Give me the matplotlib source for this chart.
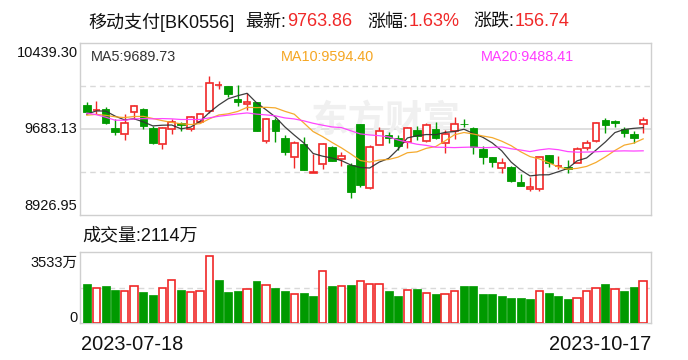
import numpy as np
import pandas as pd
import matplotlib
matplotlib.use('Agg')
import matplotlib.pyplot as plt

plt.rcParams['font.family'] = ['Liberation Sans', 'Noto Sans CJK SC', 'DejaVu Sans']

# ---------------- data ----------------
date_labels = ['2023-07-18', '2023-10-17']

opens = [9894, 9846, 9859, 9689, 9637, 9830, 9859, 9695, 9549, 9681,
         9733, 9686, 9747, 9839, 10067, 10061, 9947, 9900, 9918, 9578,
         9762, 9604, 9434, 9550, 9297, 9373, 9525, 9422, 9367, 9727,
         9162, 9545, 9628, 9607, 9566, 9674, 9575, 9681, 9557, 9666,
         9730, 9689, 9507, 9434, 9337, 9352, 9214, 9156, 9153, 9454,
         9358, 9346, 9381, 9513, 9575, 9762, 9753, 9681, 9639, 9724]
highs = [9918, 9929, 9874, 9768, 9815, 9890, 9868, 9710, 9703, 9768,
         9747, 9797, 9826, 10149, 10108, 10061, 10070, 9997, 9920, 9777,
         9780, 9633, 9575, 9615, 9461, 9557, 9538, 9481, 9384, 9727,
         9542, 9703, 9657, 9630, 9700, 9710, 9739, 9747, 9674, 9786,
         9768, 9698, 9534, 9437, 9425, 9354, 9287, 9264, 9437, 9458,
         9446, 9410, 9528, 9586, 9747, 9777, 9762, 9698, 9666, 9791]
lows = [9826, 9815, 9727, 9630, 9586, 9768, 9686, 9551, 9510, 9639,
        9668, 9666, 9733, 9824, 10035, 9967, 9885, 9850, 9666, 9563,
        9571, 9457, 9340, 9327, 9292, 9329, 9399, 9360, 9079, 9176,
        9156, 9542, 9563, 9498, 9519, 9586, 9573, 9599, 9469, 9593,
        9698, 9461, 9375, 9352, 9299, 9214, 9182, 9141, 9141, 9352,
        9329, 9299, 9380, 9498, 9573, 9651, 9703, 9615, 9557, 9651]
closes = [9835, 9850, 9739, 9659, 9733, 9885, 9712, 9563, 9689, 9742,
          9716, 9786, 9815, 10085, 10072, 9988, 9918, 9922, 9668, 9768,
          9668, 9484, 9560, 9327, 9301, 9549, 9404, 9446, 9132, 9191,
          9528, 9663, 9607, 9536, 9689, 9624, 9716, 9601, 9637, 9727,
          9724, 9528, 9434, 9390, 9381, 9228, 9185, 9170, 9434, 9387,
          9362, 9329, 9505, 9560, 9733, 9721, 9739, 9645, 9607.12, 9763.86]
# closes of the 19 sessions before the window (needed for the moving averages)
pre_closes = [10120, 10180, 10190, 9740, 9660, 9650, 9610, 9640, 9790, 9830,
              9780, 9820, 9790, 9800, 9790, 9705, 9745, 9880, 9900]
# volume in 万
volumes = [1942, 1727, 1843, 1644, 1577, 1826, 1544, 1378, 1760, 2125,
           1644, 1528, 1577, 3319, 2141, 1544, 1594, 1677, 2091, 1876,
           1743, 1594, 1428, 1494, 1329, 2589, 1843, 1826, 1876, 2108,
           1926, 1926, 1577, 1329, 1660, 1677, 1511, 1428, 1461, 1611,
           1826, 1826, 1428, 1428, 1329, 1229, 1229, 1179, 1611, 1478,
           1329, 1179, 1262, 1611, 1760, 1926, 1710, 1577, 1776, 2114]

price_ticks = [8926.95, 9683.13, 10439.30]
price_tick_labels = ['8926.95', '9683.13', '10439.30']
vol_max = 3533
vol_tick_labels = ['0', '3533万']
ma_labels = ['MA5:9689.73', 'MA10:9594.40', 'MA20:9488.41']
title_name = '移动支付[BK0556]'
title_fields = [('最新:', '9763.86'), ('涨幅:', '1.63%'), ('涨跌:', '156.74')]
vol_title = '成交量:2114万'

# ---------------- style ----------------
RED = '#F02828'
GREEN = '#009A00'
GRID = '#D9D9D9'
SPINE = '#CFCFCF'
TXT = '#111111'
MA_COLORS = ['#333333', '#F5A623', '#FF3CFF']

W, H = 688, 360
fig = plt.figure(figsize=(W / 100, H / 100), dpi=100)
fig.patch.set_facecolor('white')


def fx(px):
    return px / W


def fy(py):
    return 1 - py / H


ax = fig.add_axes([fx(80), fy(215), (651 - 80) / W, (215 - 43) / H])
axv = fig.add_axes([fx(80), fy(323), (651 - 80) / W, (323 - 252) / H])

o = np.array(opens, float)
h = np.array(highs, float)
l = np.array(lows, float)
c = np.array(closes, float)
v = np.array(volumes, float)
x = np.arange(len(c))

# moving averages
allc = pd.Series(list(pre_closes) + list(closes), dtype=float)
n_pre = len(pre_closes)
mas = [allc.rolling(n).mean().to_numpy()[n_pre:] for n in (5, 10, 20)]

up = c >= o
dn = ~up
lo = np.minimum(o, c)
hi = np.maximum(o, c)

# grid lines
ymin, ymax = price_ticks[0], price_ticks[-1]
ymid = price_ticks[1]
ax.axhline(ymid, color=GRID, lw=1.2, zorder=0)
for q in (0.25, 0.75):
    ax.axhline(ymin + (ymax - ymin) * q, color=GRID, lw=1.0, ls=(0, (4, 3)), zorder=0)
axv.axhline(vol_max / 2, color=GRID, lw=1.0, ls=(0, (4, 3)), zorder=0)

# watermark
ax.text(0.535, 0.545, '东方财富', transform=ax.transAxes, fontsize=27,
        fontweight='bold', color='#F0F0F0', ha='center', va='center', zorder=1,
        family=['Noto Sans CJK SC'])

BW = 0.8
# green candles
ax.vlines(x[dn], l[dn], h[dn], color=GREEN, lw=1.0, zorder=3)
ax.bar(x[dn], hi[dn] - lo[dn], bottom=lo[dn], width=BW, color=GREEN,
       edgecolor=GREEN, lw=0.6, zorder=4)
# red candles (hollow)
ax.vlines(x[up], l[up], lo[up], color=RED, lw=1.0, zorder=3)
ax.vlines(x[up], hi[up], h[up], color=RED, lw=1.0, zorder=3)
ax.bar(x[up], hi[up] - lo[up], bottom=lo[up], width=BW - 0.08, facecolor='white',
       edgecolor=RED, lw=1.2, zorder=4)

for ma, col in zip(mas, MA_COLORS):
    ax.plot(x, ma, color=col, lw=0.9, zorder=5, alpha=0.95)

# volume
prev = np.r_[pre_closes[-1], c[:-1]]
vup = c >= prev
axv.bar(x[~vup], v[~vup], width=0.84, color=GREEN, edgecolor=GREEN, lw=0.5, zorder=3)
axv.bar(x[vup], v[vup], width=0.78, facecolor='white', edgecolor=RED, lw=1.2, zorder=3)

for a in (ax, axv):
    a.set_xlim(-0.72, 59.83)
    a.set_xticks([])
    a.set_yticks([])
    for s in a.spines.values():
        s.set_color(SPINE)
        s.set_linewidth(1.0)
ax.set_ylim(ymin, ymax)
axv.set_ylim(0, vol_max)

# price axis labels
ys = [205.7, 128.3, 52.3]
for lab, py in zip(price_tick_labels, ys):
    fig.text(fx(77.5), fy(py + 0.8), lab, ha='right', va='center', fontsize=10.5, color=TXT)
fig.text(fx(77.5), fy(262.5), vol_tick_labels[1], ha='right', va='center', fontsize=10.5, color=TXT)
fig.text(fx(77.5), fy(317.5), vol_tick_labels[0], ha='right', va='center', fontsize=10.5, color=TXT)

# MA legend
for lab, px, col in zip(ma_labels, (90.5, 280.5, 480.5), MA_COLORS):
    fig.text(fx(px), fy(57), lab, ha='left', va='center', fontsize=10.4, color=col)

# title: black names followed directly by red values
TFS = 13
fig.text(fx(88), fy(22), title_name, ha='left', va='center', fontsize=TFS, color=TXT)
for (name, val), px in zip(title_fields, (245.6, 367.5, 473)):
    t = fig.text(fx(px), fy(22), name, ha='left', va='center', fontsize=TFS, color=TXT)
    fig.add_artist(matplotlib.text.Annotation(
        val, xy=(1, 0), xycoords=t, xytext=(0.3, 0), textcoords='offset points',
        ha='left', va='bottom', fontsize=TFS, color=RED))

fig.text(fx(82.5), fy(236), vol_title, ha='left', va='center', fontsize=13, color=TXT)

# dates
fig.text(fx(81), fy(344), date_labels[0], ha='left', va='center', fontsize=14.4, color=TXT)
fig.text(fx(651), fy(344), date_labels[1], ha='right', va='center', fontsize=14.4, color=TXT)

fig.savefig('out.png', dpi=100, facecolor='white')
